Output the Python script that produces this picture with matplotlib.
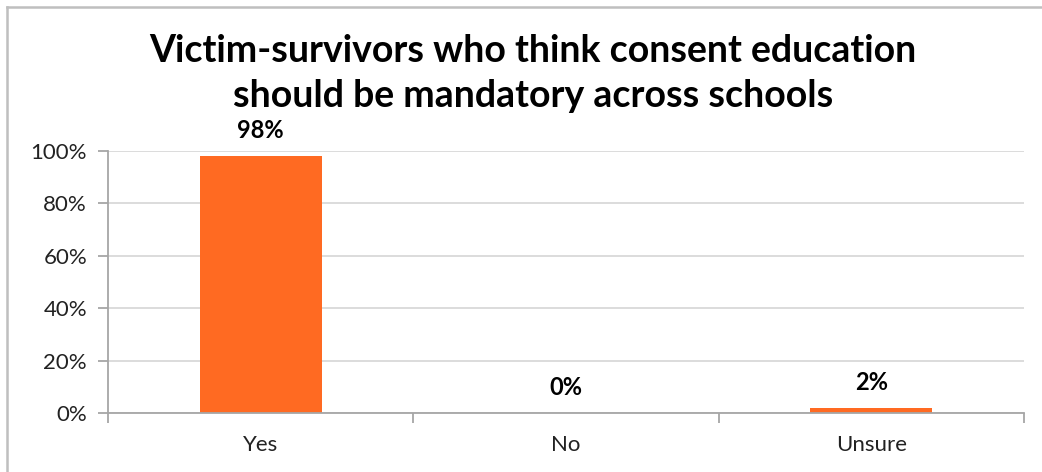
import matplotlib
matplotlib.use("Agg")
import matplotlib.pyplot as plt
from matplotlib.lines import Line2D
from matplotlib.ticker import FuncFormatter

# Survey answers
categories = ["Yes", "No", "Unsure"]
shares = [98, 0, 2]
y_ticks = [0, 20, 40, 60, 80, 100]
title_lines = ["Victim-survivors who think consent education",
               "should be mandatory across schools"]

BAR_COLOR = "#FF6A22"
GRID_COLOR = "#D9D9D9"
AXIS_COLOR = "#A6A6A6"

plt.rcParams["font.family"] = ["Lato", "DejaVu Sans"]

fig = plt.figure(figsize=(10.42, 4.72), dpi=100)
ax = fig.add_axes([0.1036, 0.125, 0.8791, 0.555])

x = range(len(categories))
ax.bar(x, shares, width=0.40, color=BAR_COLOR, zorder=3)

for xi, v in zip(x, shares):
    ax.annotate(f"{v}%", (xi, v), xytext=(0, 13), textcoords="offset points",
                ha="center", va="baseline", fontsize=17, fontweight="bold",
                color="black")

ax.set_xlim(-0.5, len(categories) - 0.5)
ax.set_ylim(0, 100)
ax.set_yticks(y_ticks)
ax.yaxis.set_major_formatter(FuncFormatter(lambda v, p: f"{v:.0f}%"))
ax.set_xticks(list(x))
ax.set_xticklabels(categories)
ax.set_xticks([i - 0.5 for i in range(len(categories) + 1)], minor=True)

ax.tick_params(axis="x", which="major", length=0, pad=16, labelsize=16,
               labelcolor="#222222")
ax.tick_params(axis="x", which="minor", length=7, width=1.3, color=AXIS_COLOR)
ax.tick_params(axis="y", length=7, width=1.3, color=AXIS_COLOR, pad=8,
               labelsize=16, labelcolor="#222222")

ax.grid(axis="y", color=GRID_COLOR, linewidth=1.3, zorder=0)
for side in ["top", "right"]:
    ax.spines[side].set_visible(False)
for side in ["left", "bottom"]:
    ax.spines[side].set_color(AXIS_COLOR)
    ax.spines[side].set_linewidth(1.3)
ax.spines["bottom"].set_zorder(4)

title_x = 533 / 1042
fig.text(title_x, 1 - 62 / 472, title_lines[0], ha="center", va="baseline",
         fontsize=27, fontweight="bold")
fig.text(title_x, 1 - 107 / 472, title_lines[1], ha="center", va="baseline",
         fontsize=27, fontweight="bold")

# chart frame (only top and left edges show in the crop)
fig.add_artist(Line2D([7 / 1042, 1], [1 - 7 / 472, 1 - 7 / 472],
                      transform=fig.transFigure, color="#BFBFBF", linewidth=1.8))
fig.add_artist(Line2D([7 / 1042, 7 / 1042], [0, 1 - 7 / 472],
                      transform=fig.transFigure, color="#BFBFBF", linewidth=1.8))

fig.savefig("out.png", dpi=100)
